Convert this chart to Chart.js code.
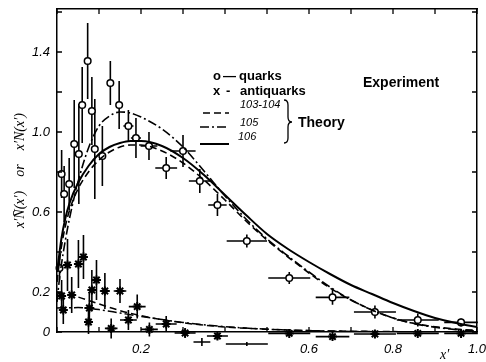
<!DOCTYPE html>
<html>
<head>
<meta charset="utf-8">
<script src="https://cdn.jsdelivr.net/npm/chart.js@4.4.0/dist/chart.umd.min.js"></script>
<style>
  html, body { margin: 0; padding: 0; background: #fff; }
</style>
</head>
<body>
<canvas id="distChart" width="486" height="362"></canvas>
<script>
// experiment: quarks (open circles)
const quarkX = [0.006, 0.011, 0.017, 0.029, 0.041, 0.052, 0.060, 0.073, 0.083, 0.090, 0.108, 0.127, 0.148, 0.170, 0.188, 0.219, 0.26, 0.30, 0.34, 0.382, 0.452, 0.553, 0.656, 0.757, 0.859, 0.962];
const quarkY = [0.32, 0.79, 0.69, 0.74, 0.94, 0.89, 1.135, 1.355, 1.105, 0.915, 0.88, 1.245, 1.135, 1.03, 0.97, 0.93, 0.82, 0.905, 0.755, 0.635, 0.455, 0.27, 0.173, 0.10, 0.06, 0.048];
const quarkErrY = [0.06, 0.12, 0.14, 0.13, 0.22, 0.25, 0.19, 0.19, 0.17, 0.25, 0.15, 0.11, 0.12, 0.08, 0.1, 0.07, 0.055, 0.08, 0.06, 0.055, 0.033, 0.03, 0.037, 0.033, 0.033, 0.02];
const quarkErrX = [0, 0, 0, 0, 0, 0, 0, 0, 0, 0, 0, 0, 0, 0.012, 0.012, 0.02, 0.026, 0.03, 0.026, 0.022, 0.048, 0.05, 0.04, 0.05, 0.05, 0.04];

// experiment: antiquarks (stars)
const antiX = [0.011, 0.015, 0.025, 0.035, 0.051, 0.063, 0.075, 0.077, 0.083, 0.094, 0.114, 0.129, 0.15, 0.17, 0.191, 0.22, 0.26, 0.305, 0.345, 0.382, 0.452, 0.553, 0.656, 0.757, 0.859, 0.962];
const antiY = [0.18, 0.11, 0.335, 0.185, 0.34, 0.375, 0.05, 0.12, 0.21, 0.26, 0.205, 0.018, 0.205, 0.06, 0.127, 0.013, 0.04, -0.005, -0.05, -0.02, -0.06, -0.007, -0.023, -0.01, -0.007, -0.007];
const antiErrY = [0.08, 0.07, 0.13, 0.09, 0.12, 0.11, 0.06, 0.08, 0.1, 0.1, 0.09, 0.05, 0.06, 0.05, 0.06, 0.035, 0.04, 0.025, 0.02, 0.02, 0.01, 0.015, 0.01, 0.01, 0.01, 0.01];
const antiErrX = [0.005, 0.01, 0, 0.01, 0, 0, 0.01, 0.012, 0, 0, 0.012, 0.015, 0.015, 0.02, 0.02, 0.02, 0.025, 0.025, 0.02, 0.025, 0.05, 0.05, 0.04, 0.05, 0.05, 0.04];

// theory curves, quarks
const theoryX = [0, 0.005, 0.01, 0.02, 0.03, 0.05, 0.075, 0.1, 0.125, 0.15, 0.175, 0.2, 0.25, 0.3, 0.35, 0.4, 0.45, 0.5, 0.55, 0.6, 0.65, 0.7, 0.75, 0.8, 0.85, 0.9, 0.95, 1.0];
const quark106 = [0.3, 0.38, 0.46, 0.57, 0.645, 0.745, 0.83, 0.89, 0.925, 0.945, 0.955, 0.955, 0.93, 0.87, 0.785, 0.685, 0.585, 0.49, 0.415, 0.35, 0.29, 0.235, 0.19, 0.145, 0.105, 0.07, 0.045, 0.025];
const quark105 = [0.15, 0.25, 0.33, 0.46, 0.57, 0.75, 0.92, 1.03, 1.08, 1.10, 1.095, 1.075, 1.015, 0.925, 0.805, 0.68, 0.565, 0.465, 0.38, 0.3, 0.225, 0.16, 0.11, 0.07, 0.042, 0.024, 0.012, 0.005];
const quark103 = [0.25, 0.34, 0.42, 0.53, 0.61, 0.715, 0.8, 0.86, 0.9, 0.925, 0.935, 0.935, 0.905, 0.845, 0.76, 0.66, 0.555, 0.46, 0.375, 0.295, 0.22, 0.16, 0.11, 0.07, 0.043, 0.026, 0.015, 0.008];

// theory curves, antiquarks
const antiTheoryX = [0, 0.05, 0.1, 0.15, 0.2, 0.25, 0.3, 0.35, 0.4, 0.5, 0.6, 0.7, 0.8, 0.9, 1.0];
const anti103 = [0.2, 0.175, 0.14, 0.107, 0.082, 0.062, 0.046, 0.034, 0.025, 0.014, 0.007, 0.004, 0.002, 0.001, 0];
const anti105 = [0.12, 0.122, 0.112, 0.095, 0.078, 0.062, 0.048, 0.036, 0.027, 0.014, 0.007, 0.003, 0.001, 0, 0];

// ticks
const xTickVals = [0, 0.1, 0.2, 0.3, 0.4, 0.5, 0.6, 0.7, 0.8, 0.9, 1.0];
const xLabelVals = [0.2, 0.6, 0.8, 1.0];
const xLabelText = ['0.2', '0.6', '0.8', '1.0'];
const yTickVals = [0, 0.2, 0.4, 0.6, 0.8, 1.0, 1.2, 1.4, 1.6];
const yLabelVals = [0, 0.2, 0.6, 1.0, 1.4];
const yLabelText = ['0', '0.2', '0.6', '1.0', '1.4'];

const pts = (xs, ys) => xs.map((x, i) => ({ x: x, y: ys[i] }));
const labelFor = (v, vals, text) => {
    const i = vals.findIndex(a => Math.abs(a - v) < 1e-6);
    return i >= 0 ? text[i] : '';
};

const DASH = [7, 4];
const DASHDOT = [9, 3, 2, 3];

// fixed box sizes so the plot area matches the scan
const fixBox = (w, h) => s => {
    if (w !== null) s.width = w;
    if (h !== null) s.height = h;
    s.paddingLeft = 0; s.paddingRight = 0; s.paddingTop = 0; s.paddingBottom = 0;
};

// error bars drawn under each marker set
const errorBars = {
    id: 'errorBars',
    beforeDatasetDraw(chart, args) {
        const ds = chart.data.datasets[args.index];
        if (!ds.errY) return;
        const { ctx, scales: { x, y } } = chart;
        ctx.save();
        ctx.strokeStyle = '#000';
        ctx.lineWidth = 1.6;
        ds.data.forEach((p, i) => {
            const px = x.getPixelForValue(p.x);
            const py = y.getPixelForValue(p.y);
            ctx.beginPath();
            if (ds.errY[i]) {
                ctx.moveTo(px, y.getPixelForValue(p.y - ds.errY[i]));
                ctx.lineTo(px, y.getPixelForValue(p.y + ds.errY[i]));
            }
            if (ds.errX[i]) {
                ctx.moveTo(x.getPixelForValue(p.x - ds.errX[i]), py);
                ctx.lineTo(x.getPixelForValue(p.x + ds.errX[i]), py);
            }
            ctx.stroke();
        });
        ctx.restore();
    }
};

// inward tick marks on all four sides
const innerTicks = {
    id: 'innerTicks',
    afterDraw(chart) {
        const { ctx, chartArea: a, scales: { x, y } } = chart;
        ctx.save();
        ctx.strokeStyle = '#000';
        ctx.lineWidth = 1.3;
        ctx.beginPath();
        xTickVals.forEach(v => {
            const px = x.getPixelForValue(v);
            ctx.moveTo(px, a.bottom); ctx.lineTo(px, a.bottom - 5);
            ctx.moveTo(px, a.top); ctx.lineTo(px, a.top + 5);
        });
        yTickVals.forEach(v => {
            const py = y.getPixelForValue(v);
            if (py < a.top) return;
            ctx.moveTo(a.left, py); ctx.lineTo(a.left + 5, py);
            ctx.moveTo(a.right, py); ctx.lineTo(a.right - 5, py);
        });
        ctx.stroke();
        ctx.restore();
    }
};

// legend block and captions
const captions = {
    id: 'captions',
    afterDraw(chart) {
        const ctx = chart.ctx;
        ctx.save();
        ctx.fillStyle = '#000';
        ctx.strokeStyle = '#000';
        ctx.textBaseline = 'middle';
        ctx.font = 'bold 13px "Liberation Sans", Arial, sans-serif';
        ctx.fillText('o', 213, 76);
        ctx.fillText('—', 223, 76);
        ctx.fillText('quarks', 239, 76);
        ctx.fillText('x', 213, 91);
        ctx.fillText('-', 226, 91);
        ctx.fillText('antiquarks', 240, 91);
        ctx.font = 'bold 14px "Liberation Sans", Arial, sans-serif';
        ctx.fillText('Theory', 298, 123);
        ctx.fillText('Experiment', 363, 83);
        ctx.font = 'italic 11px "Liberation Sans", Arial, sans-serif';
        ctx.fillText('103-104', 240, 105);
        ctx.fillText('105', 240, 123);
        ctx.fillText('106', 238, 137);
        // line samples
        ctx.lineWidth = 1.6;
        ctx.setLineDash(DASH);
        ctx.beginPath(); ctx.moveTo(203, 113); ctx.lineTo(229, 113); ctx.stroke();
        ctx.setLineDash(DASHDOT);
        ctx.beginPath(); ctx.moveTo(200, 127); ctx.lineTo(229, 127); ctx.stroke();
        ctx.setLineDash([]);
        ctx.lineWidth = 2;
        ctx.beginPath(); ctx.moveTo(200, 144); ctx.lineTo(229, 144); ctx.stroke();
        // brace
        ctx.lineWidth = 1.3;
        ctx.beginPath();
        ctx.moveTo(284, 100);
        ctx.quadraticCurveTo(288, 100, 288, 105);
        ctx.lineTo(288, 117);
        ctx.quadraticCurveTo(288, 122, 292, 122);
        ctx.quadraticCurveTo(288, 122, 288, 127);
        ctx.lineTo(288, 138);
        ctx.quadraticCurveTo(288, 143, 284, 143);
        ctx.stroke();
        // x axis caption
        ctx.font = 'italic 14px "Liberation Serif", serif';
        ctx.fillText('x′', 440, 355);
        ctx.restore();
    }
};

const ctx = document.getElementById('distChart').getContext('2d');
const distChart = new Chart(ctx, {
    type: 'scatter',
    data: {
        datasets: [
            {
                label: '106',
                data: pts(theoryX, quark106),
                showLine: true, pointRadius: 0, borderColor: '#000', borderWidth: 2,
                cubicInterpolationMode: 'monotone'
            },
            {
                label: '105',
                data: pts(theoryX, quark105),
                showLine: true, pointRadius: 0, borderColor: '#000', borderWidth: 1.6,
                borderDash: DASHDOT, cubicInterpolationMode: 'monotone'
            },
            {
                label: '103-104',
                data: pts(theoryX, quark103),
                showLine: true, pointRadius: 0, borderColor: '#000', borderWidth: 1.6,
                borderDash: DASH, cubicInterpolationMode: 'monotone'
            },
            {
                label: '105 antiquarks',
                data: pts(antiTheoryX, anti105),
                showLine: true, pointRadius: 0, borderColor: '#000', borderWidth: 1.5,
                borderDash: DASHDOT, cubicInterpolationMode: 'monotone'
            },
            {
                label: '103-104 antiquarks',
                data: pts(antiTheoryX, anti103),
                showLine: true, pointRadius: 0, borderColor: '#000', borderWidth: 1.5,
                borderDash: DASH, cubicInterpolationMode: 'monotone'
            },
            {
                label: 'antiquarks',
                data: pts(antiX, antiY),
                errY: antiErrY, errX: antiErrX,
                pointStyle: 'star', pointRadius: 4.5, borderWidth: 2,
                borderColor: '#000', backgroundColor: '#000', clip: false
            },
            {
                label: 'quarks',
                data: pts(quarkX, quarkY),
                errY: quarkErrY, errX: quarkErrX,
                pointStyle: 'circle', pointRadius: 3.3, borderWidth: 1.5,
                borderColor: '#000', backgroundColor: '#fff', clip: false
            }
        ]
    },
    options: {
        responsive: false,
        animation: false,
        devicePixelRatio: 1,
        layout: { padding: 0 },
        plugins: {
            legend: { display: false },
            tooltip: { enabled: false }
        },
        scales: {
            x: {
                type: 'linear', position: 'bottom', min: 0, max: 1,
                afterBuildTicks: s => { s.ticks = xTickVals.map(v => ({ value: v })); },
                afterFit: fixBox(null, 30),
                grid: { display: false, drawTicks: false },
                border: { display: true, color: '#000', width: 1.5 },
                ticks: {
                    autoSkip: false, maxRotation: 0, padding: 10, color: '#000',
                    font: { family: '"Liberation Sans", Arial, sans-serif', size: 13, style: 'italic' },
                    callback: v => labelFor(v, xLabelVals, xLabelText)
                }
            },
            xTop: {
                type: 'linear', position: 'top', min: 0, max: 1,
                afterFit: fixBox(null, 9),
                grid: { display: false, drawTicks: false },
                border: { display: true, color: '#000', width: 1.5 },
                ticks: { display: false }
            },
            y: {
                type: 'linear', position: 'left', min: 0, max: 1.615,
                afterBuildTicks: s => { s.ticks = yTickVals.map(v => ({ value: v })); },
                afterFit: fixBox(57, null),
                grid: { display: false, drawTicks: false },
                border: { display: true, color: '#000', width: 1.5 },
                title: {
                    display: true,
                    text: 'x′N̄(x′)    or    x′N(x′)',
                    color: '#000',
                    font: { family: '"Liberation Serif", serif', size: 14, style: 'italic' },
                    padding: { top: 12, bottom: 0 }
                },
                ticks: {
                    autoSkip: false, padding: 7, color: '#000',
                    font: { family: '"Liberation Sans", Arial, sans-serif', size: 13, style: 'italic' },
                    callback: v => labelFor(v, yLabelVals, yLabelText)
                }
            },
            yRight: {
                type: 'linear', position: 'right', min: 0, max: 1.615,
                afterFit: fixBox(9, null),
                grid: { display: false, drawTicks: false },
                border: { display: true, color: '#000', width: 1.5 },
                ticks: { display: false }
            }
        }
    },
    plugins: [errorBars, innerTicks, captions]
});
</script>
</body>
</html>
